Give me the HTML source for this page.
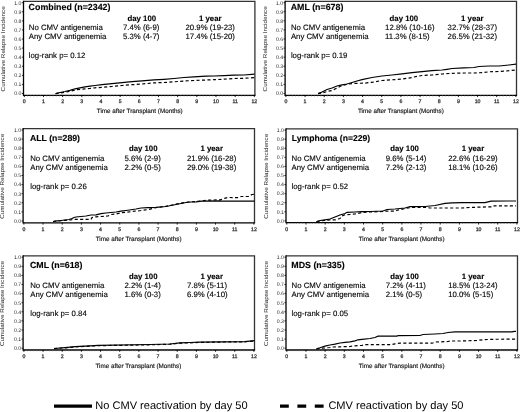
<!DOCTYPE html><html><head><meta charset="utf-8"><style>html,body{margin:0;padding:0;background:#fff;width:520px;height:412px;overflow:hidden}svg{display:block;will-change:transform}text{font-family:"Liberation Sans",sans-serif;text-rendering:geometricPrecision}.t{stroke:#000;stroke-width:0.12px}.tk{stroke:#333;stroke-width:0.25px}.t2{stroke:#111;stroke-width:0.15px}</style></head><body><svg width="520" height="412" viewBox="0 0 520 412"><g><path d="M23.5 1.4H254.9V95.3" fill="none" stroke="#333" stroke-width="1.3"/><path d="M23.5 0.8V95.3H255.5" fill="none" stroke="#000" stroke-width="1.3"/><path d="M21.9 93.5H23.5M21.9 84.42H23.5M21.9 75.34H23.5M21.9 66.26H23.5M21.9 57.18H23.5M21.9 48.1H23.5M21.9 39.02H23.5M21.9 29.94H23.5M21.9 20.86H23.5M21.9 11.78H23.5M21.9 2.7H23.5" stroke="#000" stroke-width="0.8"/><path d="M24.3 95.3V97.1M43.47 95.3V97.1M62.63 95.3V97.1M81.8 95.3V97.1M100.97 95.3V97.1M120.13 95.3V97.1M139.3 95.3V97.1M158.47 95.3V97.1M177.63 95.3V97.1M196.8 95.3V97.1M215.97 95.3V97.1M235.13 95.3V97.1M254.3 95.3V97.1" stroke="#000" stroke-width="0.9"/><path d="M27.49 95.3V96.6M30.69 95.3V96.6M33.88 95.3V96.6M37.08 95.3V96.6M40.27 95.3V96.6M46.66 95.3V96.6M49.86 95.3V96.6M53.05 95.3V96.6M56.24 95.3V96.6M59.44 95.3V96.6M65.83 95.3V96.6M69.02 95.3V96.6M72.22 95.3V96.6M75.41 95.3V96.6M78.61 95.3V96.6M84.99 95.3V96.6M88.19 95.3V96.6M91.38 95.3V96.6M94.58 95.3V96.6M97.77 95.3V96.6M104.16 95.3V96.6M107.36 95.3V96.6M110.55 95.3V96.6M113.74 95.3V96.6M116.94 95.3V96.6M123.33 95.3V96.6M126.52 95.3V96.6M129.72 95.3V96.6M132.91 95.3V96.6M136.11 95.3V96.6M142.49 95.3V96.6M145.69 95.3V96.6M148.88 95.3V96.6M152.08 95.3V96.6M155.27 95.3V96.6M161.66 95.3V96.6M164.86 95.3V96.6M168.05 95.3V96.6M171.24 95.3V96.6M174.44 95.3V96.6M180.83 95.3V96.6M184.02 95.3V96.6M187.22 95.3V96.6M190.41 95.3V96.6M193.61 95.3V96.6M199.99 95.3V96.6M203.19 95.3V96.6M206.38 95.3V96.6M209.58 95.3V96.6M212.77 95.3V96.6M219.16 95.3V96.6M222.36 95.3V96.6M225.55 95.3V96.6M228.74 95.3V96.6M231.94 95.3V96.6M238.33 95.3V96.6M241.52 95.3V96.6M244.72 95.3V96.6M247.91 95.3V96.6M251.11 95.3V96.6" stroke="#777" stroke-width="0.6"/><text x="21.5" y="95.3" font-size="5.2" text-anchor="end" fill="#2a2a2a">0.0</text><text x="21.5" y="86.22" font-size="5.2" text-anchor="end" fill="#2a2a2a">0.1</text><text x="21.5" y="77.14" font-size="5.2" text-anchor="end" fill="#2a2a2a">0.2</text><text x="21.5" y="68.06" font-size="5.2" text-anchor="end" fill="#2a2a2a">0.3</text><text x="21.5" y="58.98" font-size="5.2" text-anchor="end" fill="#2a2a2a">0.4</text><text x="21.5" y="49.9" font-size="5.2" text-anchor="end" fill="#2a2a2a">0.5</text><text x="21.5" y="40.82" font-size="5.2" text-anchor="end" fill="#2a2a2a">0.6</text><text x="21.5" y="31.74" font-size="5.2" text-anchor="end" fill="#2a2a2a">0.7</text><text x="21.5" y="22.66" font-size="5.2" text-anchor="end" fill="#2a2a2a">0.8</text><text x="21.5" y="13.58" font-size="5.2" text-anchor="end" fill="#2a2a2a">0.9</text><text x="21.5" y="4.5" font-size="5.2" text-anchor="end" fill="#2a2a2a">1.0</text><text x="24.3" y="102.9" font-size="5.2" class="tk" text-anchor="middle" fill="#222">0</text><text x="43.47" y="102.9" font-size="5.2" class="tk" text-anchor="middle" fill="#222">1</text><text x="62.63" y="102.9" font-size="5.2" class="tk" text-anchor="middle" fill="#222">2</text><text x="81.8" y="102.9" font-size="5.2" class="tk" text-anchor="middle" fill="#222">3</text><text x="100.97" y="102.9" font-size="5.2" class="tk" text-anchor="middle" fill="#222">4</text><text x="120.13" y="102.9" font-size="5.2" class="tk" text-anchor="middle" fill="#222">5</text><text x="139.3" y="102.9" font-size="5.2" class="tk" text-anchor="middle" fill="#222">6</text><text x="158.47" y="102.9" font-size="5.2" class="tk" text-anchor="middle" fill="#222">7</text><text x="177.63" y="102.9" font-size="5.2" class="tk" text-anchor="middle" fill="#222">8</text><text x="196.8" y="102.9" font-size="5.2" class="tk" text-anchor="middle" fill="#222">9</text><text x="215.97" y="102.9" font-size="5.2" class="tk" text-anchor="middle" fill="#222">10</text><text x="235.13" y="102.9" font-size="5.2" class="tk" text-anchor="middle" fill="#222">11</text><text x="254.3" y="102.9" font-size="5.2" class="tk" text-anchor="middle" fill="#222">12</text><text x="139.8" y="113.4" font-size="6.3" class="t2" text-anchor="middle" fill="#111">Time after Transplant (Months)</text><text transform="translate(4.8 48.85) rotate(-90) scale(1 0.9)" font-size="6.3" text-anchor="middle" fill="#1a1a1a">Cumulative Relapse Incidence</text><text class="t" x="28.6" y="10.4" font-size="8.85" font-weight="bold">Combined (n=2342)</text><text class="t" x="127.5" y="20.5" font-size="7.8" font-weight="bold">day 100</text><text class="t" x="199" y="20.5" font-size="7.8" font-weight="bold">1 year</text><text class="t" x="28.8" y="30" font-size="7.8">No CMV antigenemia</text><text class="t" x="123" y="30" font-size="7.8">7.4% (6-9)</text><text class="t" x="185.5" y="30" font-size="7.8">20.9% (19-23)</text><text class="t" x="28.8" y="39" font-size="7.8">Any CMV antigenemia</text><text class="t" x="123" y="39" font-size="7.8">5.3% (4-7)</text><text class="t" x="185.5" y="39" font-size="7.8">17.4% (15-20)</text><text class="t" x="28.8" y="58.2" font-size="7.8">log-rank p= 0.12</text><path d="M55.6 93.6 L60 92.5 L65 91.5 L70 90.3 L75 88.8 L80 87.8 L85 86.8 L90 86.2 L95 85.5 L102 84.7 L112 83.7 L122 82.7 L132 81.7 L142 80.8 L154 79.9 L164 79.3 L174 78.5 L184 77.5 L194 76.8 L206 76.1 L214 76 L224 75.7 L234 75.2 L244 75 L254.5 74.2" fill="none" stroke="#000" stroke-width="1.2"/><path d="M55.6 93.6 L60 93 L65 92.3 L70 91.3 L75 90 L80 89.3 L85 88.8 L90 88.4 L95 87.8 L102 87.4 L112 86.5 L122 85.5 L132 84.7 L142 84 L154 82.9 L164 82.5 L174 81.8 L184 81 L194 80.5 L206 80 L214 79.7 L224 79.2 L234 78.5 L244 78.3 L254.5 77.6" fill="none" stroke="#000" stroke-width="1.2" stroke-dasharray="3.1 2.35"/></g><g><path d="M285.1 1.4H516.5V95.3" fill="none" stroke="#333" stroke-width="1.3"/><path d="M285.1 0.8V95.3H517.1" fill="none" stroke="#000" stroke-width="1.3"/><path d="M283.5 93.5H285.1M283.5 84.42H285.1M283.5 75.34H285.1M283.5 66.26H285.1M283.5 57.18H285.1M283.5 48.1H285.1M283.5 39.02H285.1M283.5 29.94H285.1M283.5 20.86H285.1M283.5 11.78H285.1M283.5 2.7H285.1" stroke="#000" stroke-width="0.8"/><path d="M285.9 95.3V97.1M305.07 95.3V97.1M324.23 95.3V97.1M343.4 95.3V97.1M362.57 95.3V97.1M381.73 95.3V97.1M400.9 95.3V97.1M420.07 95.3V97.1M439.23 95.3V97.1M458.4 95.3V97.1M477.57 95.3V97.1M496.73 95.3V97.1M515.9 95.3V97.1" stroke="#000" stroke-width="0.9"/><path d="M289.09 95.3V96.6M292.29 95.3V96.6M295.48 95.3V96.6M298.68 95.3V96.6M301.87 95.3V96.6M308.26 95.3V96.6M311.46 95.3V96.6M314.65 95.3V96.6M317.84 95.3V96.6M321.04 95.3V96.6M327.43 95.3V96.6M330.62 95.3V96.6M333.82 95.3V96.6M337.01 95.3V96.6M340.21 95.3V96.6M346.59 95.3V96.6M349.79 95.3V96.6M352.98 95.3V96.6M356.18 95.3V96.6M359.37 95.3V96.6M365.76 95.3V96.6M368.96 95.3V96.6M372.15 95.3V96.6M375.34 95.3V96.6M378.54 95.3V96.6M384.93 95.3V96.6M388.12 95.3V96.6M391.32 95.3V96.6M394.51 95.3V96.6M397.71 95.3V96.6M404.09 95.3V96.6M407.29 95.3V96.6M410.48 95.3V96.6M413.68 95.3V96.6M416.87 95.3V96.6M423.26 95.3V96.6M426.46 95.3V96.6M429.65 95.3V96.6M432.84 95.3V96.6M436.04 95.3V96.6M442.43 95.3V96.6M445.62 95.3V96.6M448.82 95.3V96.6M452.01 95.3V96.6M455.21 95.3V96.6M461.59 95.3V96.6M464.79 95.3V96.6M467.98 95.3V96.6M471.18 95.3V96.6M474.37 95.3V96.6M480.76 95.3V96.6M483.96 95.3V96.6M487.15 95.3V96.6M490.34 95.3V96.6M493.54 95.3V96.6M499.93 95.3V96.6M503.12 95.3V96.6M506.32 95.3V96.6M509.51 95.3V96.6M512.71 95.3V96.6" stroke="#777" stroke-width="0.6"/><text x="283.1" y="95.3" font-size="5.2" text-anchor="end" fill="#2a2a2a">0.0</text><text x="283.1" y="86.22" font-size="5.2" text-anchor="end" fill="#2a2a2a">0.1</text><text x="283.1" y="77.14" font-size="5.2" text-anchor="end" fill="#2a2a2a">0.2</text><text x="283.1" y="68.06" font-size="5.2" text-anchor="end" fill="#2a2a2a">0.3</text><text x="283.1" y="58.98" font-size="5.2" text-anchor="end" fill="#2a2a2a">0.4</text><text x="283.1" y="49.9" font-size="5.2" text-anchor="end" fill="#2a2a2a">0.5</text><text x="283.1" y="40.82" font-size="5.2" text-anchor="end" fill="#2a2a2a">0.6</text><text x="283.1" y="31.74" font-size="5.2" text-anchor="end" fill="#2a2a2a">0.7</text><text x="283.1" y="22.66" font-size="5.2" text-anchor="end" fill="#2a2a2a">0.8</text><text x="283.1" y="13.58" font-size="5.2" text-anchor="end" fill="#2a2a2a">0.9</text><text x="283.1" y="4.5" font-size="5.2" text-anchor="end" fill="#2a2a2a">1.0</text><text x="285.9" y="102.9" font-size="5.2" class="tk" text-anchor="middle" fill="#222">0</text><text x="305.07" y="102.9" font-size="5.2" class="tk" text-anchor="middle" fill="#222">1</text><text x="324.23" y="102.9" font-size="5.2" class="tk" text-anchor="middle" fill="#222">2</text><text x="343.4" y="102.9" font-size="5.2" class="tk" text-anchor="middle" fill="#222">3</text><text x="362.57" y="102.9" font-size="5.2" class="tk" text-anchor="middle" fill="#222">4</text><text x="381.73" y="102.9" font-size="5.2" class="tk" text-anchor="middle" fill="#222">5</text><text x="400.9" y="102.9" font-size="5.2" class="tk" text-anchor="middle" fill="#222">6</text><text x="420.07" y="102.9" font-size="5.2" class="tk" text-anchor="middle" fill="#222">7</text><text x="439.23" y="102.9" font-size="5.2" class="tk" text-anchor="middle" fill="#222">8</text><text x="458.4" y="102.9" font-size="5.2" class="tk" text-anchor="middle" fill="#222">9</text><text x="477.57" y="102.9" font-size="5.2" class="tk" text-anchor="middle" fill="#222">10</text><text x="496.73" y="102.9" font-size="5.2" class="tk" text-anchor="middle" fill="#222">11</text><text x="515.9" y="102.9" font-size="5.2" class="tk" text-anchor="middle" fill="#222">12</text><text x="400.9" y="113.4" font-size="6.3" class="t2" text-anchor="middle" fill="#111">Time after Transplant (Months)</text><text transform="translate(267.2 48.85) rotate(-90) scale(1 0.9)" font-size="6.3" text-anchor="middle" fill="#1a1a1a">Cumulative Relapse Incidence</text><text class="t" x="290.7" y="10.4" font-size="8.85" font-weight="bold">AML (n=678)</text><text class="t" x="389.6" y="20.5" font-size="7.8" font-weight="bold">day 100</text><text class="t" x="461.1" y="20.5" font-size="7.8" font-weight="bold">1 year</text><text class="t" x="290.9" y="30" font-size="7.8">No CMV antigenemia</text><text class="t" x="385.1" y="30" font-size="7.8">12.8% (10-16)</text><text class="t" x="447.6" y="30" font-size="7.8">32.7% (28-37)</text><text class="t" x="290.9" y="39" font-size="7.8">Any CMV antigenemia</text><text class="t" x="385.1" y="39" font-size="7.8">11.3% (8-15)</text><text class="t" x="447.6" y="39" font-size="7.8">26.5% (21-32)</text><text class="t" x="290.9" y="58.2" font-size="7.8">log-rank p= 0.19</text><path d="M318 93.6 L322 92 L327 89.5 L332 88 L337 86 L342 84.8 L347 84 L352 82.5 L357 81 L362 79.6 L372 77.5 L382 76 L392 75 L402 73.8 L412 72.7 L422 71.7 L432 70.7 L442 70 L447 69.3 L452 68.5 L464 67.9 L474 67.5 L479 66.5 L489 66 L499 66 L509 65 L516 64.2" fill="none" stroke="#000" stroke-width="1.2"/><path d="M318 93.6 L322 93 L327 91.5 L332 90.5 L337 88 L342 85.5 L347 84.3 L352 83.6 L357 83.3 L364 83.2 L372 82.3 L382 80.5 L392 79.8 L402 79 L412 77.6 L414 77 L422 75.5 L432 75 L442 74 L452 73.3 L464 73 L474 73 L484 72.5 L489 71.8 L499 71.5 L504 71.2 L516 70" fill="none" stroke="#000" stroke-width="1.2" stroke-dasharray="3.1 2.35"/></g><g><path d="M23.1 128.7H254.5V222.8" fill="none" stroke="#333" stroke-width="1.3"/><path d="M23.1 128.1V222.8H255.1" fill="none" stroke="#000" stroke-width="1.3"/><path d="M21.5 221H23.1M21.5 211.9H23.1M21.5 202.8H23.1M21.5 193.7H23.1M21.5 184.6H23.1M21.5 175.5H23.1M21.5 166.4H23.1M21.5 157.3H23.1M21.5 148.2H23.1M21.5 139.1H23.1M21.5 130H23.1" stroke="#000" stroke-width="0.8"/><path d="M23.9 222.8V224.6M43.07 222.8V224.6M62.23 222.8V224.6M81.4 222.8V224.6M100.57 222.8V224.6M119.73 222.8V224.6M138.9 222.8V224.6M158.07 222.8V224.6M177.23 222.8V224.6M196.4 222.8V224.6M215.57 222.8V224.6M234.73 222.8V224.6M253.9 222.8V224.6" stroke="#000" stroke-width="0.9"/><path d="M27.09 222.8V224.1M30.29 222.8V224.1M33.48 222.8V224.1M36.68 222.8V224.1M39.87 222.8V224.1M46.26 222.8V224.1M49.46 222.8V224.1M52.65 222.8V224.1M55.84 222.8V224.1M59.04 222.8V224.1M65.43 222.8V224.1M68.62 222.8V224.1M71.82 222.8V224.1M75.01 222.8V224.1M78.21 222.8V224.1M84.59 222.8V224.1M87.79 222.8V224.1M90.98 222.8V224.1M94.18 222.8V224.1M97.37 222.8V224.1M103.76 222.8V224.1M106.96 222.8V224.1M110.15 222.8V224.1M113.34 222.8V224.1M116.54 222.8V224.1M122.93 222.8V224.1M126.12 222.8V224.1M129.32 222.8V224.1M132.51 222.8V224.1M135.71 222.8V224.1M142.09 222.8V224.1M145.29 222.8V224.1M148.48 222.8V224.1M151.68 222.8V224.1M154.87 222.8V224.1M161.26 222.8V224.1M164.46 222.8V224.1M167.65 222.8V224.1M170.84 222.8V224.1M174.04 222.8V224.1M180.43 222.8V224.1M183.62 222.8V224.1M186.82 222.8V224.1M190.01 222.8V224.1M193.21 222.8V224.1M199.59 222.8V224.1M202.79 222.8V224.1M205.98 222.8V224.1M209.18 222.8V224.1M212.37 222.8V224.1M218.76 222.8V224.1M221.96 222.8V224.1M225.15 222.8V224.1M228.34 222.8V224.1M231.54 222.8V224.1M237.93 222.8V224.1M241.12 222.8V224.1M244.32 222.8V224.1M247.51 222.8V224.1M250.71 222.8V224.1" stroke="#777" stroke-width="0.6"/><text x="21.1" y="222.8" font-size="5.2" text-anchor="end" fill="#2a2a2a">0.0</text><text x="21.1" y="213.7" font-size="5.2" text-anchor="end" fill="#2a2a2a">0.1</text><text x="21.1" y="204.6" font-size="5.2" text-anchor="end" fill="#2a2a2a">0.2</text><text x="21.1" y="195.5" font-size="5.2" text-anchor="end" fill="#2a2a2a">0.3</text><text x="21.1" y="186.4" font-size="5.2" text-anchor="end" fill="#2a2a2a">0.4</text><text x="21.1" y="177.3" font-size="5.2" text-anchor="end" fill="#2a2a2a">0.5</text><text x="21.1" y="168.2" font-size="5.2" text-anchor="end" fill="#2a2a2a">0.6</text><text x="21.1" y="159.1" font-size="5.2" text-anchor="end" fill="#2a2a2a">0.7</text><text x="21.1" y="150" font-size="5.2" text-anchor="end" fill="#2a2a2a">0.8</text><text x="21.1" y="140.9" font-size="5.2" text-anchor="end" fill="#2a2a2a">0.9</text><text x="21.1" y="131.8" font-size="5.2" text-anchor="end" fill="#2a2a2a">1.0</text><text x="23.9" y="231" font-size="5.2" class="tk" text-anchor="middle" fill="#222">0</text><text x="43.07" y="231" font-size="5.2" class="tk" text-anchor="middle" fill="#222">1</text><text x="62.23" y="231" font-size="5.2" class="tk" text-anchor="middle" fill="#222">2</text><text x="81.4" y="231" font-size="5.2" class="tk" text-anchor="middle" fill="#222">3</text><text x="100.57" y="231" font-size="5.2" class="tk" text-anchor="middle" fill="#222">4</text><text x="119.73" y="231" font-size="5.2" class="tk" text-anchor="middle" fill="#222">5</text><text x="138.9" y="231" font-size="5.2" class="tk" text-anchor="middle" fill="#222">6</text><text x="158.07" y="231" font-size="5.2" class="tk" text-anchor="middle" fill="#222">7</text><text x="177.23" y="231" font-size="5.2" class="tk" text-anchor="middle" fill="#222">8</text><text x="196.4" y="231" font-size="5.2" class="tk" text-anchor="middle" fill="#222">9</text><text x="215.57" y="231" font-size="5.2" class="tk" text-anchor="middle" fill="#222">10</text><text x="234.73" y="231" font-size="5.2" class="tk" text-anchor="middle" fill="#222">11</text><text x="253.9" y="231" font-size="5.2" class="tk" text-anchor="middle" fill="#222">12</text><text x="138.6" y="240.9" font-size="6.3" class="t2" text-anchor="middle" fill="#111">Time after Transplant (Months)</text><text transform="translate(4.4 176.25) rotate(-90) scale(1 0.9)" font-size="6.3" text-anchor="middle" fill="#1a1a1a">Cumulative Relapse Incidence</text><text class="t" x="30" y="140.9" font-size="8.72" font-weight="bold">ALL (n=289)</text><text class="t" x="128.9" y="151" font-size="7.8" font-weight="bold">day 100</text><text class="t" x="200.4" y="151" font-size="7.8" font-weight="bold">1 year</text><text class="t" x="30.2" y="160.5" font-size="7.8">No CMV antigenemia</text><text class="t" x="124.4" y="160.5" font-size="7.8">5.6% (2-9)</text><text class="t" x="186.9" y="160.5" font-size="7.8">21.9% (16-28)</text><text class="t" x="30.2" y="169.5" font-size="7.8">Any CMV antigenemia</text><text class="t" x="124.4" y="169.5" font-size="7.8">2.2% (0-5)</text><text class="t" x="186.9" y="169.5" font-size="7.8">29.0% (19-38)</text><text class="t" x="30.2" y="188.7" font-size="7.8">log-rank p= 0.26</text><path d="M53 221.5 L57 220.8 L61 220.5 L69 219.5 L72 218.5 L74 217.5 L76 217 L81 216.5 L86 216 L91 215 L96 214.8 L101 213.7 L106 213 L116 212 L121 211.2 L126 210.5 L136 209 L141 208 L148 207.6 L156 207.4 L166 206.5 L171 205.5 L176 204.5 L181 203.5 L186 202.5 L191 202 L196 201.8 L202 201.1 L220 200.8 L222 201.2 L254.5 201.2" fill="none" stroke="#000" stroke-width="1.2"/><path d="M53 221.5 L59 220.8 L66 220.3 L71 219.8 L73 219.4 L91 219.4 L92 217.5 L96 216.8 L101 216.5 L108 216 L111 214.5 L116 214 L121 212.8 L126 212.3 L131 211.7 L136 211 L141 210.5 L148 209.6 L156 207.6 L166 206.3 L171 205.3 L176 204.2 L181 203.2 L186 202.3 L191 201.8 L196 201.6 L208 200.1 L220 199.9 L224.6 198.3 L228 197.5 L237.7 197.6 L241.3 196.5 L248.4 196.5 L252 194.5 L254.5 194.2" fill="none" stroke="#000" stroke-width="1.2" stroke-dasharray="3.1 2.35"/></g><g><path d="M286 128.8H517.5V222.7" fill="none" stroke="#333" stroke-width="1.3"/><path d="M286 128.2V222.7H518.1" fill="none" stroke="#000" stroke-width="1.3"/><path d="M284.4 220.9H286M284.4 211.82H286M284.4 202.74H286M284.4 193.66H286M284.4 184.58H286M284.4 175.5H286M284.4 166.42H286M284.4 157.34H286M284.4 148.26H286M284.4 139.18H286M284.4 130.1H286" stroke="#000" stroke-width="0.8"/><path d="M286.8 222.7V224.5M305.98 222.7V224.5M325.15 222.7V224.5M344.32 222.7V224.5M363.5 222.7V224.5M382.68 222.7V224.5M401.85 222.7V224.5M421.02 222.7V224.5M440.2 222.7V224.5M459.38 222.7V224.5M478.55 222.7V224.5M497.72 222.7V224.5M516.9 222.7V224.5" stroke="#000" stroke-width="0.9"/><path d="M290 222.7V224M293.19 222.7V224M296.39 222.7V224M299.58 222.7V224M302.78 222.7V224M309.17 222.7V224M312.37 222.7V224M315.56 222.7V224M318.76 222.7V224M321.95 222.7V224M328.35 222.7V224M331.54 222.7V224M334.74 222.7V224M337.93 222.7V224M341.13 222.7V224M347.52 222.7V224M350.72 222.7V224M353.91 222.7V224M357.11 222.7V224M360.3 222.7V224M366.7 222.7V224M369.89 222.7V224M373.09 222.7V224M376.28 222.7V224M379.48 222.7V224M385.87 222.7V224M389.07 222.7V224M392.26 222.7V224M395.46 222.7V224M398.65 222.7V224M405.05 222.7V224M408.24 222.7V224M411.44 222.7V224M414.63 222.7V224M417.83 222.7V224M424.22 222.7V224M427.42 222.7V224M430.61 222.7V224M433.81 222.7V224M437 222.7V224M443.4 222.7V224M446.59 222.7V224M449.79 222.7V224M452.98 222.7V224M456.18 222.7V224M462.57 222.7V224M465.77 222.7V224M468.96 222.7V224M472.16 222.7V224M475.35 222.7V224M481.75 222.7V224M484.94 222.7V224M488.14 222.7V224M491.33 222.7V224M494.53 222.7V224M500.92 222.7V224M504.12 222.7V224M507.31 222.7V224M510.51 222.7V224M513.7 222.7V224" stroke="#777" stroke-width="0.6"/><text x="284" y="222.7" font-size="5.2" text-anchor="end" fill="#2a2a2a">0.0</text><text x="284" y="213.62" font-size="5.2" text-anchor="end" fill="#2a2a2a">0.1</text><text x="284" y="204.54" font-size="5.2" text-anchor="end" fill="#2a2a2a">0.2</text><text x="284" y="195.46" font-size="5.2" text-anchor="end" fill="#2a2a2a">0.3</text><text x="284" y="186.38" font-size="5.2" text-anchor="end" fill="#2a2a2a">0.4</text><text x="284" y="177.3" font-size="5.2" text-anchor="end" fill="#2a2a2a">0.5</text><text x="284" y="168.22" font-size="5.2" text-anchor="end" fill="#2a2a2a">0.6</text><text x="284" y="159.14" font-size="5.2" text-anchor="end" fill="#2a2a2a">0.7</text><text x="284" y="150.06" font-size="5.2" text-anchor="end" fill="#2a2a2a">0.8</text><text x="284" y="140.98" font-size="5.2" text-anchor="end" fill="#2a2a2a">0.9</text><text x="284" y="131.9" font-size="5.2" text-anchor="end" fill="#2a2a2a">1.0</text><text x="286.8" y="230.9" font-size="5.2" class="tk" text-anchor="middle" fill="#222">0</text><text x="305.98" y="230.9" font-size="5.2" class="tk" text-anchor="middle" fill="#222">1</text><text x="325.15" y="230.9" font-size="5.2" class="tk" text-anchor="middle" fill="#222">2</text><text x="344.32" y="230.9" font-size="5.2" class="tk" text-anchor="middle" fill="#222">3</text><text x="363.5" y="230.9" font-size="5.2" class="tk" text-anchor="middle" fill="#222">4</text><text x="382.68" y="230.9" font-size="5.2" class="tk" text-anchor="middle" fill="#222">5</text><text x="401.85" y="230.9" font-size="5.2" class="tk" text-anchor="middle" fill="#222">6</text><text x="421.02" y="230.9" font-size="5.2" class="tk" text-anchor="middle" fill="#222">7</text><text x="440.2" y="230.9" font-size="5.2" class="tk" text-anchor="middle" fill="#222">8</text><text x="459.38" y="230.9" font-size="5.2" class="tk" text-anchor="middle" fill="#222">9</text><text x="478.55" y="230.9" font-size="5.2" class="tk" text-anchor="middle" fill="#222">10</text><text x="497.72" y="230.9" font-size="5.2" class="tk" text-anchor="middle" fill="#222">11</text><text x="516.9" y="230.9" font-size="5.2" class="tk" text-anchor="middle" fill="#222">12</text><text x="401.6" y="240.8" font-size="6.3" class="t2" text-anchor="middle" fill="#111">Time after Transplant (Months)</text><text transform="translate(268.1 176.25) rotate(-90) scale(1 0.9)" font-size="6.3" text-anchor="middle" fill="#1a1a1a">Cumulative Relapse Incidence</text><text class="t" x="291.8" y="140.9" font-size="8.62" font-weight="bold">Lymphoma (n=229)</text><text class="t" x="390.2" y="151" font-size="7.8" font-weight="bold">day 100</text><text class="t" x="461.7" y="151" font-size="7.8" font-weight="bold">1 year</text><text class="t" x="291.5" y="160.5" font-size="7.8">No CMV antigenemia</text><text class="t" x="385.7" y="160.5" font-size="7.8">9.6% (5-14)</text><text class="t" x="448.2" y="160.5" font-size="7.8">22.6% (16-29)</text><text class="t" x="291.5" y="169.5" font-size="7.8">Any CMV antigenemia</text><text class="t" x="385.7" y="169.5" font-size="7.8">7.2% (2-13)</text><text class="t" x="448.2" y="169.5" font-size="7.8">18.1% (10-26)</text><text class="t" x="291.5" y="188.7" font-size="7.8">log-rank p= 0.52</text><path d="M316.5 221.7 L320 220.5 L325 219.8 L330 219 L335 217 L340 215 L345 213.5 L347 212.3 L355 212 L362 211.7 L370 211.5 L383 211 L387 209.5 L395 209 L400 208.5 L405 208 L410 206.6 L425 206.5 L435 205.5 L445 203.3 L452 202.8 L462 202.6 L485 202.6 L491 201.2 L508 201 L516 201" fill="none" stroke="#000" stroke-width="1.2"/><path d="M316.5 221.7 L320 221 L325 220.3 L330 219.8 L336 219.8 L338 219 L340 218.5 L342 216 L345 214.8 L350 214.5 L355 214 L362 212.5 L370 212 L383 211.4 L387 211 L395 211.2 L398 210 L405 208.6 L412 207.3 L427 207.5 L430 208 L462 208 L471.5 207.4 L491 206.8 L492.3 205.9 L516 205.8" fill="none" stroke="#000" stroke-width="1.2" stroke-dasharray="3.1 2.35"/></g><g><path d="M23.1 255.9H254.5V350" fill="none" stroke="#333" stroke-width="1.3"/><path d="M23.1 255.3V350H255.1" fill="none" stroke="#000" stroke-width="1.3"/><path d="M21.5 348.2H23.1M21.5 339.1H23.1M21.5 330H23.1M21.5 320.9H23.1M21.5 311.8H23.1M21.5 302.7H23.1M21.5 293.6H23.1M21.5 284.5H23.1M21.5 275.4H23.1M21.5 266.3H23.1M21.5 257.2H23.1" stroke="#000" stroke-width="0.8"/><path d="M23.9 350V351.8M43.07 350V351.8M62.23 350V351.8M81.4 350V351.8M100.57 350V351.8M119.73 350V351.8M138.9 350V351.8M158.07 350V351.8M177.23 350V351.8M196.4 350V351.8M215.57 350V351.8M234.73 350V351.8M253.9 350V351.8" stroke="#000" stroke-width="0.9"/><path d="M27.09 350V351.3M30.29 350V351.3M33.48 350V351.3M36.68 350V351.3M39.87 350V351.3M46.26 350V351.3M49.46 350V351.3M52.65 350V351.3M55.84 350V351.3M59.04 350V351.3M65.43 350V351.3M68.62 350V351.3M71.82 350V351.3M75.01 350V351.3M78.21 350V351.3M84.59 350V351.3M87.79 350V351.3M90.98 350V351.3M94.18 350V351.3M97.37 350V351.3M103.76 350V351.3M106.96 350V351.3M110.15 350V351.3M113.34 350V351.3M116.54 350V351.3M122.93 350V351.3M126.12 350V351.3M129.32 350V351.3M132.51 350V351.3M135.71 350V351.3M142.09 350V351.3M145.29 350V351.3M148.48 350V351.3M151.68 350V351.3M154.87 350V351.3M161.26 350V351.3M164.46 350V351.3M167.65 350V351.3M170.84 350V351.3M174.04 350V351.3M180.43 350V351.3M183.62 350V351.3M186.82 350V351.3M190.01 350V351.3M193.21 350V351.3M199.59 350V351.3M202.79 350V351.3M205.98 350V351.3M209.18 350V351.3M212.37 350V351.3M218.76 350V351.3M221.96 350V351.3M225.15 350V351.3M228.34 350V351.3M231.54 350V351.3M237.93 350V351.3M241.12 350V351.3M244.32 350V351.3M247.51 350V351.3M250.71 350V351.3" stroke="#777" stroke-width="0.6"/><text x="21.1" y="350" font-size="5.2" text-anchor="end" fill="#2a2a2a">0.0</text><text x="21.1" y="340.9" font-size="5.2" text-anchor="end" fill="#2a2a2a">0.1</text><text x="21.1" y="331.8" font-size="5.2" text-anchor="end" fill="#2a2a2a">0.2</text><text x="21.1" y="322.7" font-size="5.2" text-anchor="end" fill="#2a2a2a">0.3</text><text x="21.1" y="313.6" font-size="5.2" text-anchor="end" fill="#2a2a2a">0.4</text><text x="21.1" y="304.5" font-size="5.2" text-anchor="end" fill="#2a2a2a">0.5</text><text x="21.1" y="295.4" font-size="5.2" text-anchor="end" fill="#2a2a2a">0.6</text><text x="21.1" y="286.3" font-size="5.2" text-anchor="end" fill="#2a2a2a">0.7</text><text x="21.1" y="277.2" font-size="5.2" text-anchor="end" fill="#2a2a2a">0.8</text><text x="21.1" y="268.1" font-size="5.2" text-anchor="end" fill="#2a2a2a">0.9</text><text x="21.1" y="259" font-size="5.2" text-anchor="end" fill="#2a2a2a">1.0</text><text x="23.9" y="357.8" font-size="5.2" class="tk" text-anchor="middle" fill="#222">0</text><text x="43.07" y="357.8" font-size="5.2" class="tk" text-anchor="middle" fill="#222">1</text><text x="62.23" y="357.8" font-size="5.2" class="tk" text-anchor="middle" fill="#222">2</text><text x="81.4" y="357.8" font-size="5.2" class="tk" text-anchor="middle" fill="#222">3</text><text x="100.57" y="357.8" font-size="5.2" class="tk" text-anchor="middle" fill="#222">4</text><text x="119.73" y="357.8" font-size="5.2" class="tk" text-anchor="middle" fill="#222">5</text><text x="138.9" y="357.8" font-size="5.2" class="tk" text-anchor="middle" fill="#222">6</text><text x="158.07" y="357.8" font-size="5.2" class="tk" text-anchor="middle" fill="#222">7</text><text x="177.23" y="357.8" font-size="5.2" class="tk" text-anchor="middle" fill="#222">8</text><text x="196.4" y="357.8" font-size="5.2" class="tk" text-anchor="middle" fill="#222">9</text><text x="215.57" y="357.8" font-size="5.2" class="tk" text-anchor="middle" fill="#222">10</text><text x="234.73" y="357.8" font-size="5.2" class="tk" text-anchor="middle" fill="#222">11</text><text x="253.9" y="357.8" font-size="5.2" class="tk" text-anchor="middle" fill="#222">12</text><text x="138.4" y="368.1" font-size="6.3" class="t2" text-anchor="middle" fill="#111">Time after Transplant (Months)</text><text transform="translate(4.4 303.45) rotate(-90) scale(1 0.9)" font-size="6.3" text-anchor="middle" fill="#1a1a1a">Cumulative Relapse Incidence</text><text class="t" x="30" y="268.4" font-size="8.8" font-weight="bold">CML (n=618)</text><text class="t" x="128.9" y="278.5" font-size="7.8" font-weight="bold">day 100</text><text class="t" x="200.4" y="278.5" font-size="7.8" font-weight="bold">1 year</text><text class="t" x="30.2" y="288" font-size="7.8">No CMV antigenemia</text><text class="t" x="124.4" y="288" font-size="7.8">2.2% (1-4)</text><text class="t" x="186.9" y="288" font-size="7.8">7.8% (5-11)</text><text class="t" x="30.2" y="297" font-size="7.8">Any CMV antigenemia</text><text class="t" x="124.4" y="297" font-size="7.8">1.6% (0-3)</text><text class="t" x="186.9" y="297" font-size="7.8">6.9% (4-10)</text><text class="t" x="30.2" y="316.2" font-size="7.8">log-rank p= 0.84</text><path d="M54 348.6 L60 348 L65 347.6 L70 347.1 L75 346.6 L80 346.3 L85 346.1 L90 345.8 L98 345.4 L150 344.5 L170 344 L180 342.9 L190 342.5 L200 342.2 L222 341.8 L244.6 341.6 L252.4 340.9 L254.5 340.7" fill="none" stroke="#000" stroke-width="1.2"/><path d="M54 348.6 L60 348.2 L65 347.8 L70 347.4 L75 346.9 L80 346.6 L85 346.4 L90 346.1 L98 345.7 L150 344.8 L170 344.2 L180 343.1 L190 342.8 L200 342.4 L222 342 L244.6 341.8 L252.4 341.1 L254.5 341" fill="none" stroke="#000" stroke-width="1.2" stroke-dasharray="3.1 2.35"/></g><g><path d="M286 255.9H517.5V350" fill="none" stroke="#333" stroke-width="1.3"/><path d="M286 255.3V350H518.1" fill="none" stroke="#000" stroke-width="1.3"/><path d="M284.4 348.2H286M284.4 339.1H286M284.4 330H286M284.4 320.9H286M284.4 311.8H286M284.4 302.7H286M284.4 293.6H286M284.4 284.5H286M284.4 275.4H286M284.4 266.3H286M284.4 257.2H286" stroke="#000" stroke-width="0.8"/><path d="M286.8 350V351.8M305.98 350V351.8M325.15 350V351.8M344.32 350V351.8M363.5 350V351.8M382.68 350V351.8M401.85 350V351.8M421.02 350V351.8M440.2 350V351.8M459.38 350V351.8M478.55 350V351.8M497.72 350V351.8M516.9 350V351.8" stroke="#000" stroke-width="0.9"/><path d="M290 350V351.3M293.19 350V351.3M296.39 350V351.3M299.58 350V351.3M302.78 350V351.3M309.17 350V351.3M312.37 350V351.3M315.56 350V351.3M318.76 350V351.3M321.95 350V351.3M328.35 350V351.3M331.54 350V351.3M334.74 350V351.3M337.93 350V351.3M341.13 350V351.3M347.52 350V351.3M350.72 350V351.3M353.91 350V351.3M357.11 350V351.3M360.3 350V351.3M366.7 350V351.3M369.89 350V351.3M373.09 350V351.3M376.28 350V351.3M379.48 350V351.3M385.87 350V351.3M389.07 350V351.3M392.26 350V351.3M395.46 350V351.3M398.65 350V351.3M405.05 350V351.3M408.24 350V351.3M411.44 350V351.3M414.63 350V351.3M417.83 350V351.3M424.22 350V351.3M427.42 350V351.3M430.61 350V351.3M433.81 350V351.3M437 350V351.3M443.4 350V351.3M446.59 350V351.3M449.79 350V351.3M452.98 350V351.3M456.18 350V351.3M462.57 350V351.3M465.77 350V351.3M468.96 350V351.3M472.16 350V351.3M475.35 350V351.3M481.75 350V351.3M484.94 350V351.3M488.14 350V351.3M491.33 350V351.3M494.53 350V351.3M500.92 350V351.3M504.12 350V351.3M507.31 350V351.3M510.51 350V351.3M513.7 350V351.3" stroke="#777" stroke-width="0.6"/><text x="284" y="350" font-size="5.2" text-anchor="end" fill="#2a2a2a">0.0</text><text x="284" y="340.9" font-size="5.2" text-anchor="end" fill="#2a2a2a">0.1</text><text x="284" y="331.8" font-size="5.2" text-anchor="end" fill="#2a2a2a">0.2</text><text x="284" y="322.7" font-size="5.2" text-anchor="end" fill="#2a2a2a">0.3</text><text x="284" y="313.6" font-size="5.2" text-anchor="end" fill="#2a2a2a">0.4</text><text x="284" y="304.5" font-size="5.2" text-anchor="end" fill="#2a2a2a">0.5</text><text x="284" y="295.4" font-size="5.2" text-anchor="end" fill="#2a2a2a">0.6</text><text x="284" y="286.3" font-size="5.2" text-anchor="end" fill="#2a2a2a">0.7</text><text x="284" y="277.2" font-size="5.2" text-anchor="end" fill="#2a2a2a">0.8</text><text x="284" y="268.1" font-size="5.2" text-anchor="end" fill="#2a2a2a">0.9</text><text x="284" y="259" font-size="5.2" text-anchor="end" fill="#2a2a2a">1.0</text><text x="286.8" y="357.8" font-size="5.2" class="tk" text-anchor="middle" fill="#222">0</text><text x="305.98" y="357.8" font-size="5.2" class="tk" text-anchor="middle" fill="#222">1</text><text x="325.15" y="357.8" font-size="5.2" class="tk" text-anchor="middle" fill="#222">2</text><text x="344.32" y="357.8" font-size="5.2" class="tk" text-anchor="middle" fill="#222">3</text><text x="363.5" y="357.8" font-size="5.2" class="tk" text-anchor="middle" fill="#222">4</text><text x="382.68" y="357.8" font-size="5.2" class="tk" text-anchor="middle" fill="#222">5</text><text x="401.85" y="357.8" font-size="5.2" class="tk" text-anchor="middle" fill="#222">6</text><text x="421.02" y="357.8" font-size="5.2" class="tk" text-anchor="middle" fill="#222">7</text><text x="440.2" y="357.8" font-size="5.2" class="tk" text-anchor="middle" fill="#222">8</text><text x="459.38" y="357.8" font-size="5.2" class="tk" text-anchor="middle" fill="#222">9</text><text x="478.55" y="357.8" font-size="5.2" class="tk" text-anchor="middle" fill="#222">10</text><text x="497.72" y="357.8" font-size="5.2" class="tk" text-anchor="middle" fill="#222">11</text><text x="516.9" y="357.8" font-size="5.2" class="tk" text-anchor="middle" fill="#222">12</text><text x="401.6" y="368.1" font-size="6.3" class="t2" text-anchor="middle" fill="#111">Time after Transplant (Months)</text><text transform="translate(268.1 303.45) rotate(-90) scale(1 0.9)" font-size="6.3" text-anchor="middle" fill="#1a1a1a">Cumulative Relapse Incidence</text><text class="t" x="291.3" y="268.4" font-size="8.85" font-weight="bold">MDS (n=335)</text><text class="t" x="390.2" y="278.5" font-size="7.8" font-weight="bold">day 100</text><text class="t" x="461.7" y="278.5" font-size="7.8" font-weight="bold">1 year</text><text class="t" x="291.5" y="288" font-size="7.8">No CMV antigenemia</text><text class="t" x="385.7" y="288" font-size="7.8">7.2% (4-11)</text><text class="t" x="448.2" y="288" font-size="7.8">18.5% (13-24)</text><text class="t" x="291.5" y="297" font-size="7.8">Any CMV antigenemia</text><text class="t" x="385.7" y="297" font-size="7.8">2.1% (0-5)</text><text class="t" x="448.2" y="297" font-size="7.8">10.0% (5-15)</text><text class="t" x="291.5" y="316.2" font-size="7.8">log-rank p= 0.05</text><path d="M316.5 348.8 L320 347.8 L325 346.2 L330 345 L335 344.2 L340 343 L345 342.3 L350 341.8 L355 340.8 L358 339.8 L362 339.3 L370 338.5 L375 337.5 L378 336.2 L397 336.2 L398 335.6 L420 335.5 L423 334.5 L435 334 L443 333.5 L448 332.5 L455 331.9 L512 331.9 L514.2 331.3 L516 331.3" fill="none" stroke="#000" stroke-width="1.2"/><path d="M316.5 348.8 L320 348.3 L325 348 L330 347.5 L333 347 L340 346.8 L350 346.5 L355 345.8 L362 345.4 L365 344.7 L391 344.7 L395 343.8 L400 343.1 L432 343.2 L436 342 L448 341.5 L450 341 L460 341 L477.3 340.5 L483 339.7 L492.3 339.3 L516 339.1" fill="none" stroke="#000" stroke-width="1.2" stroke-dasharray="3.1 2.35"/></g><path d="M54 406.1H92" stroke="#000" stroke-width="3.4"/><text x="95.3" y="408.7" font-size="11.05">No CMV reactivation by day 50</text><path d="M280 406.1H324" stroke="#000" stroke-width="3.4" stroke-dasharray="8.8 8.6"/><text x="328.4" y="408.7" font-size="11.05">CMV reactivation by day 50</text></svg></body></html>
